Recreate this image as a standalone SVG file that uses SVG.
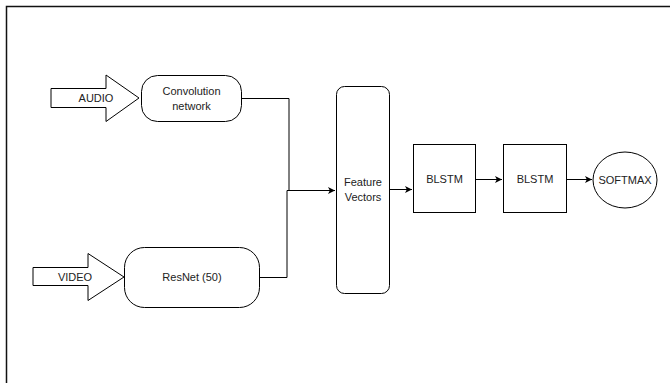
<svg xmlns="http://www.w3.org/2000/svg" width="670" height="383" viewBox="0 0 670 383">
<style>
.s{fill:#fff;stroke:#000;stroke-width:1}
.t{font-family:"Liberation Sans",Arial,sans-serif;font-size:11px;fill:#222;text-anchor:middle}
.c{fill:none;stroke:#000;stroke-width:1}
</style>
<defs>
<marker id="ah" markerWidth="8" markerHeight="8" refX="7" refY="4" orient="auto" markerUnits="userSpaceOnUse">
<path d="M0,0.5 L7,4 L0,7.5 L1.8,4 Z" fill="#000"/>
</marker>
</defs>
<rect width="670" height="383" fill="#fff"/>
<path d="M6.5,383 V6.5 H670" fill="none" stroke="#111" stroke-width="1.5"/>
<g id="connectors">
<path class="c" d="M241,98.5 H289 V190.5" />
<path class="c" d="M260,277.5 H287 V190.5 H335" marker-end="url(#ah)"/>
<path class="c" d="M390,189.5 H412" marker-end="url(#ah)"/>
<path class="c" d="M476,179.5 H502" marker-end="url(#ah)"/>
<path class="c" d="M567,179.5 H592" marker-end="url(#ah)"/>
</g>
<g id="audio">
<path class="s" d="M51,88.5 H106 V75 L139,98 L106,121.5 V107.5 H51 Z"/>
<text class="t" x="96" y="102">AUDIO</text>
</g>
<g id="video">
<path class="s" d="M33,267.5 H88 V253.5 L124,277 L88,300.5 V285.5 H33 Z"/>
<text class="t" x="75" y="281">VIDEO</text>
</g>
<g id="conv">
<rect class="s" x="141.5" y="75.5" width="100" height="46" rx="16" ry="16"/>
<text class="t" x="191.5" y="95">Convolution</text>
<text class="t" x="191.5" y="110">network</text>
</g>
<g id="resnet">
<rect class="s" x="124.5" y="247.5" width="135" height="60" rx="20" ry="20"/>
<text class="t" x="192" y="281">ResNet (50)</text>
</g>
<g id="features">
<rect class="s" x="336.5" y="86.5" width="53" height="207" rx="8" ry="8"/>
<text class="t" x="363" y="186">Feature</text>
<text class="t" x="363" y="201">Vectors</text>
</g>
<g id="blstm1">
<rect class="s" x="413.5" y="144.5" width="62" height="68"/>
<text class="t" x="444.5" y="183">BLSTM</text>
</g>
<g id="blstm2">
<rect class="s" x="503.5" y="144.5" width="63" height="68"/>
<text class="t" x="535" y="183">BLSTM</text>
</g>
<g id="softmax">
<ellipse class="s" cx="625" cy="180" rx="32" ry="28"/>
<text class="t" x="625" y="184">SOFTMAX</text>
</g>
</svg>
